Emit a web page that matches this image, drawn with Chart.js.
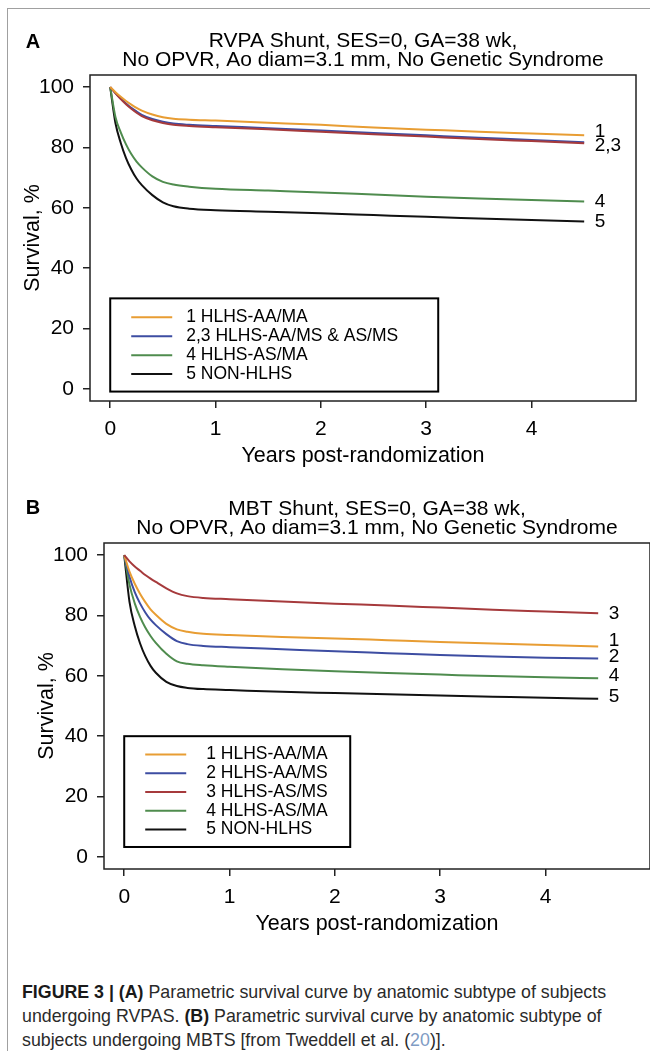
<!DOCTYPE html>
<html><head><meta charset="utf-8">
<script src="https://cdn.jsdelivr.net/npm/chart.js@4.4.1/dist/chart.umd.min.js"></script>
<style>
html,body{margin:0;padding:0;background:#fff;width:650px;height:1051px;overflow:hidden;position:relative;}
#frame{position:absolute;left:7px;top:8px;width:700px;height:1100px;border-left:1.5px solid #a0a0a0;border-top:1.5px solid #a0a0a0;}
canvas{position:absolute;}
#cA{left:0;top:0;}
#cB{left:14px;top:468px;}
#cap{position:absolute;left:22px;top:980px;width:620px;font-family:"Liberation Sans",Arial,sans-serif;font-size:17.8px;line-height:24px;color:#2a2a2a;white-space:nowrap;}
#cap b{color:#1a1a1a;}
#cap .ref{color:#7f9cc4;}
</style></head>
<body>
<div id="frame"></div>
<canvas id="cA" width="650" height="472"></canvas>
<canvas id="cB" width="650" height="472"></canvas>
<div id="cap"><b>FIGURE 3 | (A)</b> Parametric survival curve by anatomic subtype of subjects<br>undergoing RVPAS. <b>(B)</b> Parametric survival curve by anatomic subtype of<br>subjects undergoing MBTS [from Tweddell et al. (<span class="ref">20</span>)].</div>
<script>
// ---------- data ----------
const years = [0, 0.05, 0.1, 0.15, 0.2, 0.25, 0.3, 0.4, 0.5, 0.6, 0.75, 1, 1.5, 2, 2.5, 3, 3.5, 4, 4.5];

const rvpa_1 = [100, 98.3, 96.8, 95.4, 94.2, 93.1, 92.2, 90.9, 90.0, 89.5, 89.2, 88.9, 88.2, 87.5, 86.6, 85.9, 85.2, 84.6, 84.0];
const rvpa_2 = [100, 98.0, 96.2, 94.6, 93.1, 91.9, 90.8, 89.4, 88.5, 87.9, 87.5, 87.1, 86.4, 85.6, 84.8, 84.0, 83.2, 82.5, 81.7];
const rvpa_3 = [100, 97.9, 96.0, 94.3, 92.8, 91.5, 90.4, 89.0, 88.1, 87.5, 87.1, 86.7, 86.0, 85.2, 84.4, 83.6, 82.8, 82.1, 81.4];
const rvpa_4 = [100, 90.0, 85.0, 81.0, 77.8, 75.3, 73.4, 70.4, 68.6, 67.7, 67.0, 66.3, 65.7, 65.1, 64.4, 63.7, 63.1, 62.6, 62.1];
const rvpa_5 = [100, 88.0, 81.5, 76.5, 72.7, 69.7, 67.5, 64.2, 61.8, 60.5, 59.7, 59.2, 58.7, 58.2, 57.6, 57.0, 56.5, 56.0, 55.5];

const mbt_1 = [100, 94.5, 90.5, 87.2, 84.4, 82.0, 80.2, 77.2, 75.4, 74.6, 73.9, 73.5, 72.9, 72.4, 71.8, 71.2, 70.7, 70.2, 69.7];
const mbt_2 = [100, 92.8, 87.7, 84.0, 81.0, 78.6, 76.8, 73.8, 71.5, 70.5, 69.9, 69.5, 68.8, 68.1, 67.5, 66.9, 66.4, 66.0, 65.7];
const mbt_3 = [100, 97.9, 96.2, 94.8, 93.4, 92.2, 91.1, 89.0, 87.3, 86.4, 85.8, 85.4, 84.6, 83.9, 83.3, 82.6, 81.9, 81.3, 80.7];
const mbt_4 = [100, 90.2, 84.0, 79.5, 76.0, 73.2, 70.9, 67.3, 64.8, 64.0, 63.5, 63.0, 62.2, 61.5, 60.9, 60.4, 59.9, 59.5, 59.2];
const mbt_5 = [100, 84.5, 76.5, 70.8, 66.5, 63.3, 61.0, 58.0, 56.6, 56.0, 55.6, 55.3, 54.7, 54.3, 53.9, 53.5, 53.1, 52.7, 52.4];

const xTickValues = [0, 1, 2, 3, 4];
const yTickValues = [0, 20, 40, 60, 80, 100];

const titleA = ["RVPA Shunt, SES=0, GA=38 wk,", "No OPVR, Ao diam=3.1 mm, No Genetic Syndrome"];
const titleB = ["MBT Shunt, SES=0, GA=38 wk,", "No OPVR, Ao diam=3.1 mm, No Genetic Syndrome"];
const xAxisTitle = "Years post-randomization";
const yAxisTitle = "Survival, %";

const legendA = ["1 HLHS-AA/MA", "2,3 HLHS-AA/MS & AS/MS", "4 HLHS-AS/MA", "5 NON-HLHS"];
const legendB = ["1 HLHS-AA/MA", "2 HLHS-AA/MS", "3 HLHS-AS/MS", "4 HLHS-AS/MA", "5 NON-HLHS"];
const endLabelsA = ["1", "2,3", "4", "5"];
const endLabelsB = ["3", "1", "2", "4", "5"];

// ---------- styles ----------
const COL = {o: '#E89D33', b: '#3D4DA2', r: '#A63A3C', g: '#4F8C4E', k: '#111111'};
const FAM = '"Liberation Sans", Arial, Helvetica, sans-serif';

function pts(vals) { return vals.map((v, i) => ({x: years[i], y: v})); }
function ds(vals, color) {
  return {data: pts(vals), borderColor: color, borderWidth: 2, pointRadius: 0,
          cubicInterpolationMode: 'monotone', fill: false};
}

const decoPlugin = {
  id: 'deco',
  afterDraw(chart, args, o) {
    const {ctx, chartArea: ca, scales} = chart;
    const xs = scales.x, ys = scales.y;
    ctx.save();
    // frame
    ctx.strokeStyle = '#222'; ctx.lineWidth = 1.5;
    ctx.strokeRect(ca.left, ca.top, ca.right - ca.left, ca.bottom - ca.top);
    // panel letter
    ctx.fillStyle = '#000';
    ctx.font = 'bold 20px ' + FAM;
    ctx.textAlign = 'center'; ctx.textBaseline = 'middle';
    ctx.fillText(o.letter, o.letterX, o.letterY);
    // end-of-curve labels
    ctx.font = '19px ' + FAM;
    ctx.textAlign = 'left';
    o.ends.forEach(e => {
      const s = e.series;
      ctx.fillText(e.text, xs.getPixelForValue(o.endX), ys.getPixelForValue(s[s.length - 1]) + e.dy);
    });
    // legend box
    const lg = o.legend;
    const left = xs.getPixelForValue(lg.x), top = ys.getPixelForValue(lg.y);
    const h = lg.padTop + (lg.items.length - 1) * lg.rowH + lg.padBottom;
    ctx.fillStyle = '#fff';
    ctx.fillRect(left, top, lg.width, h);
    ctx.strokeStyle = '#000'; ctx.lineWidth = 2;
    ctx.strokeRect(left, top, lg.width, h);
    ctx.font = '17.5px ' + FAM;
    ctx.textAlign = 'left'; ctx.textBaseline = 'middle';
    lg.items.forEach((it, i) => {
      const y = top + lg.padTop + i * lg.rowH;
      ctx.strokeStyle = it.color; ctx.lineWidth = 2;
      ctx.beginPath(); ctx.moveTo(left + 21, y); ctx.lineTo(left + 62, y); ctx.stroke();
      ctx.fillStyle = '#000';
      ctx.fillText(it.text, left + lg.textX, y);
    });
    ctx.restore();
  }
};

function makeChart(id, datasets, title, deco) {
  const tickFont = {family: FAM, size: 21, lineHeight: 1};
  return new Chart(document.getElementById(id), {
    type: 'line',
    data: {datasets},
    options: {
      responsive: false, animation: false, devicePixelRatio: 1,
      layout: {padding: {left: 0, right: 14, top: 0, bottom: 0}},
      plugins: {
        legend: {display: false}, tooltip: {enabled: false},
        title: {display: true, text: title, fullSize: false, color: '#000',
                font: {family: FAM, size: 21, weight: 'normal', lineHeight: 0.9286},
                padding: {top: 31.25, bottom: 4.75}},
        deco
      },
      scales: {
        x: {
          type: 'linear', min: -0.192, max: 4.992,
          afterBuildTicks: s => { s.ticks = xTickValues.map(v => ({value: v})); },
          afterFit: s => { s.height = 71; },
          border: {display: false},
          grid: {drawOnChartArea: false, drawTicks: true, tickLength: 7, color: '#222', lineWidth: 1.5},
          ticks: {color: '#000', font: tickFont, padding: 10.5, maxRotation: 0, autoSkip: false},
          title: {display: true, text: xAxisTitle, color: '#000', font: {family: FAM, size: 21.5, lineHeight: 1}, padding: {top: 0, bottom: 4.75}}
        },
        y: {
          type: 'linear', min: -4, max: 104,
          afterBuildTicks: s => { s.ticks = yTickValues.map(v => ({value: v})); },
          afterFit: s => { s.width = 90; },
          border: {display: false},
          grid: {drawOnChartArea: false, drawTicks: true, tickLength: 7, color: '#222', lineWidth: 1.5},
          ticks: {color: '#000', font: tickFont, padding: 9},
          title: {display: true, text: yAxisTitle, color: '#000', font: {family: FAM, size: 21.5, lineHeight: 1}, padding: {top: 22.25, bottom: 0}}
        }
      }
    },
    plugins: [decoPlugin]
  });
}

makeChart('cA',
  [ds(rvpa_1, COL.o), ds(rvpa_3, COL.r), ds(rvpa_2, COL.b), ds(rvpa_4, COL.g), ds(rvpa_5, COL.k)],
  titleA,
  {letter: 'A', letterX: 33, letterY: 42, endX: 4.6,
   ends: [{text: endLabelsA[0], series: rvpa_1, dy: -4}, {text: endLabelsA[1], series: rvpa_2, dy: 3},
          {text: endLabelsA[2], series: rvpa_4, dy: 0}, {text: endLabelsA[3], series: rvpa_5, dy: 0}],
   legend: {x: 0, y: 30, width: 328, rowH: 18.9, padTop: 19, padBottom: 17.5, textX: 76,
            items: [{text: legendA[0], color: COL.o}, {text: legendA[1], color: COL.b},
                    {text: legendA[2], color: COL.g}, {text: legendA[3], color: COL.k}]}});

makeChart('cB',
  [ds(mbt_3, COL.r), ds(mbt_1, COL.o), ds(mbt_2, COL.b), ds(mbt_4, COL.g), ds(mbt_5, COL.k)],
  titleB,
  {letter: 'B', letterX: 19, letterY: 40, endX: 4.6,
   ends: [{text: endLabelsB[0], series: mbt_3, dy: 0}, {text: endLabelsB[1], series: mbt_1, dy: -6},
          {text: endLabelsB[2], series: mbt_2, dy: -2}, {text: endLabelsB[3], series: mbt_4, dy: -2.5},
          {text: endLabelsB[4], series: mbt_5, dy: -2}],
   legend: {x: 0, y: 40, width: 226, rowH: 18.75, padTop: 18.3, padBottom: 17.5, textX: 82,
            items: [{text: legendB[0], color: COL.o}, {text: legendB[1], color: COL.b},
                    {text: legendB[2], color: COL.r}, {text: legendB[3], color: COL.g},
                    {text: legendB[4], color: COL.k}]}});
</script>
</body></html>
